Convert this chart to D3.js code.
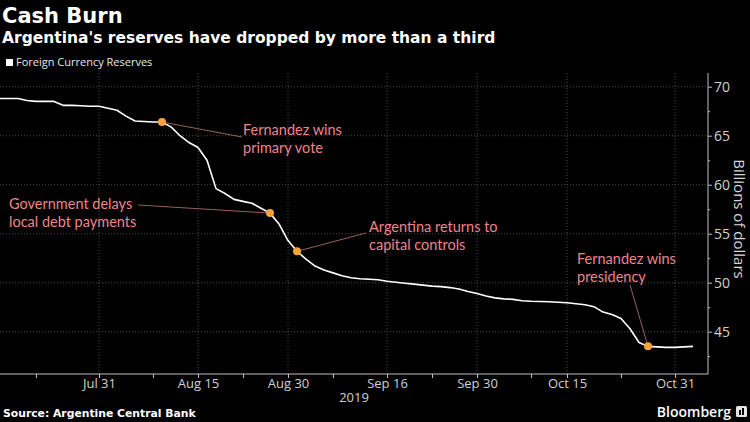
<!DOCTYPE html>
<html>
<head>
<meta charset="utf-8">
<script src="https://cdn.jsdelivr.net/npm/d3@7"></script>
<style>
  html, body { margin: 0; padding: 0; background: #000; }
  svg { display: block; }
</style>
</head>
<body>
<svg id="chart" width="750" height="422"></svg>
<script>
// ---- data ----
const dates = [
  "2019-07-16","2019-07-17","2019-07-18","2019-07-19","2019-07-22","2019-07-23","2019-07-24","2019-07-25","2019-07-26",
  "2019-07-29","2019-07-30","2019-07-31","2019-08-01","2019-08-02","2019-08-05","2019-08-06","2019-08-07","2019-08-08",
  "2019-08-09","2019-08-12","2019-08-13","2019-08-14","2019-08-15","2019-08-16","2019-08-20","2019-08-21","2019-08-22",
  "2019-08-23","2019-08-26","2019-08-27","2019-08-28","2019-08-29","2019-08-30","2019-09-02","2019-09-03","2019-09-04",
  "2019-09-05","2019-09-06","2019-09-09","2019-09-10","2019-09-11","2019-09-12","2019-09-13","2019-09-16","2019-09-17",
  "2019-09-18","2019-09-19","2019-09-20","2019-09-23","2019-09-24","2019-09-25","2019-09-26","2019-09-27","2019-09-30",
  "2019-10-01","2019-10-02","2019-10-03","2019-10-04","2019-10-07","2019-10-08","2019-10-09","2019-10-10","2019-10-11",
  "2019-10-15","2019-10-16","2019-10-17","2019-10-18","2019-10-21","2019-10-22","2019-10-23","2019-10-24","2019-10-25",
  "2019-10-28","2019-10-29","2019-10-30","2019-10-31","2019-11-01","2019-11-04"
];
const reserves = [
  68.8, 68.8, 68.8, 68.6, 68.5, 68.5, 68.5, 68.1, 68.1,
  68.05, 68.0, 68.0, 67.8, 67.6, 67.0, 66.5, 66.45, 66.4,
  66.4, 65.9, 65.0, 64.3, 63.8, 62.5, 59.6, 59.1, 58.5,
  58.3, 58.1, 57.6, 57.1, 56.0, 54.3, 53.2, 52.4, 51.7,
  51.3, 51.0, 50.7, 50.5, 50.4, 50.35, 50.3, 50.15, 50.05,
  49.95, 49.85, 49.75, 49.65, 49.6, 49.5, 49.35, 49.1, 48.9,
  48.65, 48.45, 48.35, 48.3, 48.15, 48.1, 48.08, 48.05, 48.0,
  47.95, 47.85, 47.75, 47.55, 47.0, 46.75, 46.35, 45.3, 43.9,
  43.5, 43.45, 43.4, 43.4, 43.45, 43.5
];
const xTickDates  = ["2019-07-31","2019-08-15","2019-08-30","2019-09-16","2019-09-30","2019-10-15","2019-10-31"];
const xTickLabels = ["Jul 31","Aug 15","Aug 30","Sep 16","Sep 30","Oct 15","Oct 31"];
const xMinorDates = ["2019-07-22","2019-08-08","2019-08-23","2019-09-06","2019-09-23","2019-10-08","2019-10-23"];
const yTicks      = [45, 50, 55, 60, 65, 70];
const yMinorTicks = [42.5, 47.5, 52.5, 57.5, 62.5, 67.5];
const eventDates  = ["2019-08-09","2019-08-28","2019-09-02","2019-10-28"];
const eventLabels = [
  ["Fernandez wins", "primary vote"],
  ["Government delays", "local debt payments"],
  ["Argentina returns to", "capital controls"],
  ["Fernandez wins", "presidency"]
];
const seriesName = "Foreign Currency Reserves";
const yearLabel = "2019";

// ---- layout ----
const W = 750, H = 422;
const plot = { left: 0, right: 708, top: 73, bottom: 374 };
const lastX = 693;
// label anchors: [textX, firstBaseline, connectorX, connectorY]
const labelLayout = [
  [243, 135, 242, 137],
  [9, 209, 138, 205],
  [369, 232, 366, 233],
  [577, 264, 630, 285]
];

const svg = d3.select("#chart");
svg.append("rect").attr("width", W).attr("height", H).attr("fill", "#000");

const x = d3.scalePoint().domain(dates).range([plot.left, lastX]);
const y = d3.scaleLinear().domain([40.68, 71.4]).range([plot.bottom, plot.top]);

const FONT = "'Open Sans', 'DejaVu Sans', sans-serif";
const ANNFONT = "Lato, 'Open Sans', sans-serif";
const BOLD = "'DejaVu Sans', sans-serif";

// gridlines
const grid = svg.append("g");
grid.selectAll(".gy").data(yTicks).join("line")
  .attr("x1", plot.left).attr("x2", plot.right)
  .attr("y1", d => y(d)).attr("y2", d => y(d))
  .attr("stroke", "#4a4a4a").attr("stroke-width", 1).attr("stroke-dasharray", "1,2");
grid.selectAll(".gx").data(xTickDates).join("line")
  .attr("x1", d => x(d)).attr("x2", d => x(d))
  .attr("y1", plot.top).attr("y2", plot.bottom)
  .attr("stroke", "#4a4a4a").attr("stroke-width", 1).attr("stroke-dasharray", "1,2");

// right axis
const yAxis = d3.axisRight(y).tickValues(yTicks).tickSize(4).tickPadding(2).tickFormat(d3.format("d"));
const ya = svg.append("g").attr("transform", `translate(${plot.right},0)`).call(yAxis);
ya.select(".domain").attr("stroke", "#bfbfbf").attr("d", `M0,${plot.top}V${plot.bottom}`);
ya.selectAll(".tick line").attr("stroke", "#bfbfbf");
ya.selectAll(".tick text").attr("fill", "#d0d0d0").style("font-family", FONT).style("font-size", "14px");
const yMinor = d3.axisRight(y).tickValues(yMinorTicks).tickSize(2).tickFormat("");
const ym = svg.append("g").attr("transform", `translate(${plot.right},0)`).call(yMinor);
ym.select(".domain").remove();
ym.selectAll(".tick line").attr("stroke", "#bfbfbf");

// bottom axis
const xAxis = d3.axisBottom(x).tickValues(xTickDates).tickSize(4).tickPadding(1)
  .tickFormat((d, i) => xTickLabels[i]);
const xa = svg.append("g").attr("transform", `translate(0,${plot.bottom})`).call(xAxis);
xa.select(".domain").attr("stroke", "#bfbfbf").attr("d", `M${plot.left},0H${plot.right}`);
xa.selectAll(".tick line").attr("stroke", "#bfbfbf");
xa.selectAll(".tick text").attr("fill", "#d0d0d0").style("font-family", FONT).style("font-size", "13px");
const xMinor = d3.axisBottom(x).tickValues(xMinorDates).tickSize(4).tickFormat("");
const xm = svg.append("g").attr("transform", `translate(0,${plot.bottom})`).call(xMinor);
xm.select(".domain").remove();
xm.selectAll(".tick line").attr("stroke", "#bfbfbf");

svg.append("text").attr("x", 354).attr("y", 402).attr("text-anchor", "middle")
  .attr("fill", "#d0d0d0").style("font-family", FONT).style("font-size", "13px").text(yearLabel);

// axis title
svg.append("text")
  .attr("transform", `translate(733.5,219) rotate(90)`)
  .attr("text-anchor", "middle")
  .attr("fill", "#d8d8d8").style("font-family", FONT).style("font-size", "15px")
  .text("Billions of dollars");

// line
const line = d3.line().x((d, i) => x(dates[i])).y(d => y(d));
svg.append("path").datum(reserves)
  .attr("d", line).attr("fill", "none").attr("stroke", "#ffffff").attr("stroke-width", 1.6)
  .attr("stroke-linejoin", "round");

// annotations
const ann = svg.append("g");
eventDates.forEach((dt, k) => {
  const idx = dates.indexOf(dt);
  const px = x(dt), py = y(reserves[idx]);
  const L = labelLayout[k];
  ann.append("line").attr("x1", px).attr("y1", py).attr("x2", L[2]).attr("y2", L[3])
    .attr("stroke", "#9a5f5c").attr("stroke-width", 1);
  const t = ann.append("text").attr("x", L[0]).attr("y", L[1])
    .attr("fill", "#f0848a").style("font-family", ANNFONT).style("font-size", "14.5px");
  eventLabels[k].forEach((s, j) => {
    t.append("tspan").attr("x", L[0]).attr("dy", j === 0 ? 0 : 17.5).text(s);
  });
});
ann.selectAll("circle").data(eventDates).join("circle")
  .attr("cx", d => x(d)).attr("cy", d => y(reserves[dates.indexOf(d)]))
  .attr("r", 4).attr("fill", "#f7a33a");

// titles
svg.append("text").attr("x", 2).attr("y", 23).attr("fill", "#fff")
  .style("font-family", BOLD).style("font-weight", "bold").style("font-size", "21px").text("Cash Burn");
svg.append("text").attr("x", 2).attr("y", 43).attr("fill", "#fff")
  .style("font-family", BOLD).style("font-weight", "bold").style("font-size", "15.5px")
  .text("Argentina's reserves have dropped by more than a third");

// legend
svg.append("rect").attr("x", 6).attr("y", 59).attr("width", 7).attr("height", 7).attr("fill", "#fff");
svg.append("text").attr("x", 16).attr("y", 66).attr("fill", "#e8e8e8")
  .style("font-family", FONT).style("font-size", "11px").text(seriesName);

// footer
svg.append("text").attr("x", 3).attr("y", 417).attr("fill", "#fff")
  .style("font-family", BOLD).style("font-weight", "bold").style("font-size", "10.8px")
  .text("Source: Argentine Central Bank");
svg.append("text").attr("x", 731).attr("y", 417).attr("text-anchor", "end").attr("fill", "#fff")
  .style("font-family", FONT).style("font-weight", "600").style("font-size", "14px").text("Bloomberg");
svg.append("rect").attr("x", 736).attr("y", 406).attr("width", 11).attr("height", 11).attr("rx", 1.5).attr("fill", "#e6e6e6");
svg.append("rect").attr("x", 739).attr("y", 410).attr("width", 2).attr("height", 5).attr("fill", "#000");
svg.append("rect").attr("x", 742).attr("y", 408).attr("width", 2).attr("height", 7).attr("fill", "#000");
</script>
</body>
</html>
